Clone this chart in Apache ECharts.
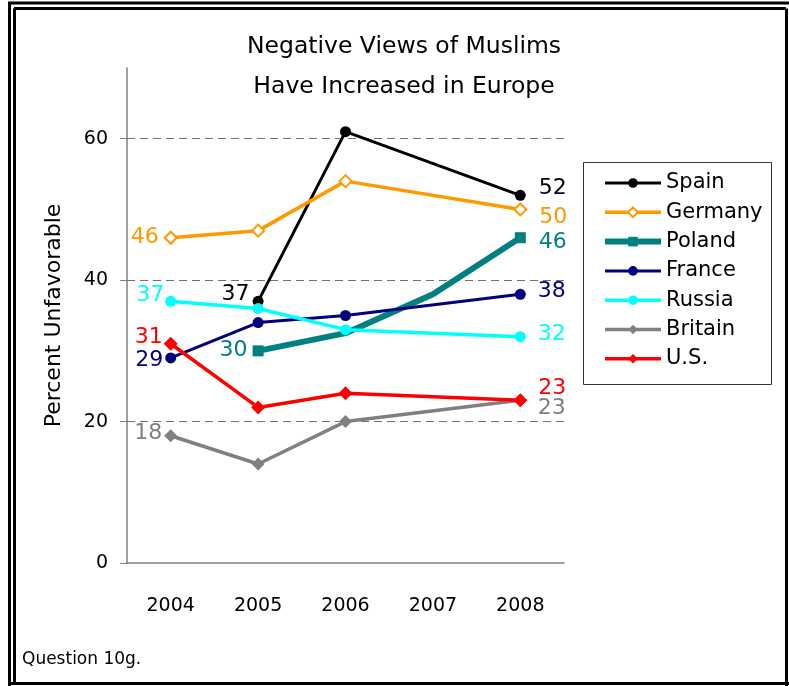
<!DOCTYPE html>
<html>
<head>
<meta charset="utf-8">
<script src="https://cdn.jsdelivr.net/npm/echarts@6/dist/echarts.min.js"></script>
<style>
html,body{margin:0;padding:0;background:#fff;}
#chart{width:789px;height:686px;}
</style>
</head>
<body>
<div id="chart"></div>
<script>
// ---- data ----
const years = ['2004', '2005', '2006', '2007', '2008'];
const spain   = [null, 37, 61, null, 52];
const germany = [46, 47, 54, null, 50];
const poland  = [null, 30, 32.5, 38, 46];
const france  = [29, 34, 35, null, 38];
const russia  = [37, 36, 33, null, 32];
const britain = [18, 14, 20, null, 23];
const us      = [31, 22, 24, null, 23];
const yTicks = [0, 20, 40, 60];
const gridValues = [20, 40, 60];

const FONT = 'DejaVu Sans';

// ---- styling / label placement ----
const seriesDefs = [
  {name: 'Spain',   data: spain,   color: '#000000', width: 3, symbol: 'circle',  size: 11, fill: '#000000',
   labels: {1: ['left', 3, -7], 4: ['right', 13, -7]}},
  {name: 'Germany', data: germany, color: '#FF9900', width: 3.5, symbol: 'diamond', size: 12, fill: '#FFFFFF',
   labels: {0: ['left', 5, 0], 4: ['right', 12, 8]}},
  {name: 'Poland',  data: poland,  color: '#008080', width: 6, symbol: 'rect',    size: 11, fill: '#008080',
   labels: {1: ['left', 5, -1], 4: ['right', 13, 5]}, noSymbol: [2, 3]},
  {name: 'France',  data: france,  color: '#000080', width: 3, symbol: 'circle',  size: 11, fill: '#000080',
   labels: {0: ['left', 2, 2], 4: ['right', 12, -3]}},
  {name: 'Russia',  data: russia,  color: '#00FFFF', width: 3.5, symbol: 'circle',  size: 11, fill: '#00FFFF',
   labels: {0: ['left', 1, -6], 4: ['right', 12, -2]}},
  {name: 'Britain', data: britain, color: '#808080', width: 3.5, symbol: 'diamond', size: 13, fill: '#808080',
   labels: {0: ['left', 2, -2], 4: ['right', 11, 8]}},
  {name: 'U.S.',    data: us,      color: '#FF0000', width: 3.5, symbol: 'diamond', size: 14, fill: '#FF0000',
   labels: {0: ['left', 1, -7], 4: ['right', 11, -12]}}
];

const series = seriesDefs.map(d => ({
  name: d.name,
  type: 'line',
  connectNulls: true,
  symbol: d.symbol,
  symbolSize: d.size,
  showAllSymbol: true,
  lineStyle: {color: d.color, width: d.width},
  itemStyle: {color: d.fill, borderColor: d.color, borderWidth: d.fill === '#FFFFFF' ? 2 : 0},
  emphasis: {disabled: true},
  data: d.data.map((v, i) => {
    if (v === null) return null;
    const item = {value: v};
    const l = d.labels[i];
    if (l) {
      item.label = {show: true, position: l[0], distance: l[1], offset: [0, l[2]],
        color: d.color, fontFamily: FONT, fontSize: 22, formatter: '{c}'};
    }
    if (d.noSymbol && d.noSymbol.indexOf(i) >= 0) {
      item.symbol = 'none';
    }
    return item;
  })
}));

// dashed gridlines drawn from the value axis
series.unshift({
  type: 'line',
  data: [],
  silent: true,
  markLine: {
    silent: true,
    symbol: 'none',
    z: 1,
    label: {show: false},
    lineStyle: {color: '#707070', type: [8, 5], width: 1},
    data: gridValues.map(v => ({yAxis: v}))
  }
});

const chart = echarts.init(document.getElementById('chart'), null, {renderer: 'canvas'});
chart.setOption({
  animation: false,
  backgroundColor: '#ffffff',
  textStyle: {fontFamily: FONT},
  grid: {left: 127, right: 225, top: 68, bottom: 123, containLabel: false},
  xAxis: {
    type: 'category',
    data: years,
    boundaryGap: true,
    axisLine: {lineStyle: {color: '#808080', width: 1.5}},
    axisTick: {show: false},
    axisLabel: {color: '#000', fontFamily: FONT, fontSize: 19, margin: 34},
    splitLine: {show: false}
  },
  yAxis: {
    type: 'value',
    min: 0,
    max: 70,
    interval: 10,
    name: 'Percent Unfavorable',
    nameLocation: 'middle',
    nameGap: 62,
    nameTextStyle: {color: '#000', fontFamily: FONT, fontSize: 22},
    axisLine: {show: true, lineStyle: {color: '#808080', width: 1.5}},
    axisTick: {show: true, inside: false, length: 7, customValues: yTicks, lineStyle: {color: '#808080'}},
    axisLabel: {color: '#000', fontFamily: FONT, fontSize: 19, margin: 19, customValues: yTicks},
    splitLine: {show: false}
  },
  legend: {
    orient: 'vertical',
    left: 583,
    top: 162,
    padding: [10.5, 10, 10, 19],
    itemWidth: 56,
    itemHeight: 12,
    itemGap: 8.3,
    data: seriesDefs.map(d => ({name: d.name, lineStyle: {width: d.width}})),
    textStyle: {color: '#000', fontFamily: FONT, fontSize: 21, lineHeight: 21},
    selectedMode: false
  },
  graphic: [
    {type: 'text', x: 404, y: 47, style: {text: 'Negative Views of Muslims', fill: '#000',
      font: '23.5px "DejaVu Sans"', textAlign: 'center', textVerticalAlign: 'middle'}},
    {type: 'text', x: 404, y: 87, style: {text: 'Have Increased in Europe', fill: '#000',
      font: '23.5px "DejaVu Sans"', textAlign: 'center', textVerticalAlign: 'middle'}},
    {type: 'text', x: 22, y: 660, style: {text: 'Question 10g.', fill: '#000',
      font: '17px "DejaVu Sans"', textAlign: 'left', textVerticalAlign: 'middle'}},
    {type: 'rect', shape: {x: 583.5, y: 162.5, width: 188, height: 222},
      style: {fill: 'none', stroke: '#333', lineWidth: 1}, z: -1},
    // frame
    {type: 'line', shape: {x1: 8, y1: 3, x2: 789, y2: 3}, style: {stroke: '#000', lineWidth: 3}},
    {type: 'line', shape: {x1: 9.5, y1: 3, x2: 9.5, y2: 686}, style: {stroke: '#000', lineWidth: 3}},
    {type: 'line', shape: {x1: 14, y1: 8.5, x2: 786, y2: 8.5}, style: {stroke: '#000', lineWidth: 3}},
    {type: 'line', shape: {x1: 14.5, y1: 8.5, x2: 14.5, y2: 683}, style: {stroke: '#000', lineWidth: 3}},
    {type: 'line', shape: {x1: 786.5, y1: 8.5, x2: 786.5, y2: 686}, style: {stroke: '#000', lineWidth: 3}},
    {type: 'line', shape: {x1: 9.5, y1: 683.5, x2: 789, y2: 683.5}, style: {stroke: '#000', lineWidth: 3}}
  ],
  series: series
});
</script>
</body>
</html>
